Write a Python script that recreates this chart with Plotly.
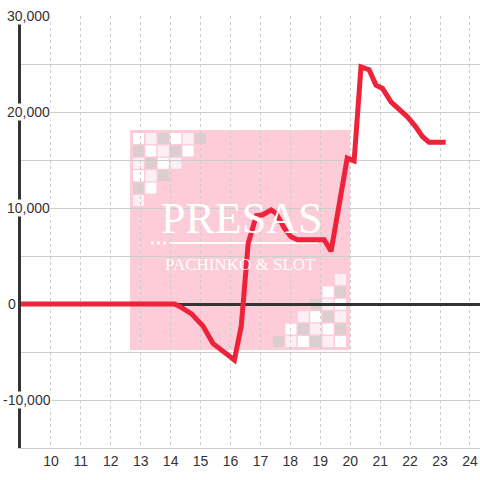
import plotly.graph_objects as go

# ---- data ----
hours = [9, 14.13, 14.3, 14.69, 15.08, 15.41, 16.13, 16.36, 16.59, 16.86, 17.08,
         17.36, 17.52, 17.8, 18.02, 18.24, 19.13, 19.36, 19.9, 20.13, 20.36,
         20.63, 20.86, 21.08, 21.36, 21.63, 21.91, 22.19, 22.41, 22.63, 23.19]
balance = [0, 0, -250, -1000, -2300, -4100, -5830, -2300, 6300, 9200, 9300,
           9800, 9450, 7900, 7000, 6700, 6700, 5500, 15200, 14900, 24700,
           24400, 22800, 22450, 21050, 20350, 19500, 18450, 17450, 16850, 16850]
x_ticks = list(range(10, 25))
y_label_vals = [30000, 20000, 10000, 0, -10000]
y_label_text = ["30,000", "20,000", "10,000", "0", "-10,000"]

W, H = 480, 480
ML, MR, MT, MB = 21, 0, 16, 32
PW, PH = W - ML - MR, H - MT - MB


def xp(px):
    return (px - ML) / PW


def yp(py):
    return (H - MB - py) / PH


fig = go.Figure()
fig.add_trace(go.Scatter(x=hours, y=balance, mode="lines",
                         line=dict(color="#ee2238", width=5),
                         hoverinfo="skip", showlegend=False))

shapes = []
# watermark background
shapes.append(dict(type="rect", xref="paper", yref="paper", layer="below",
                   x0=xp(130), x1=xp(350), y0=yp(350), y1=yp(130),
                   fillcolor="#fecbd9", line=dict(width=0)))
COL = {"W": "#ffffff", "L": "#fdeff6", "G": "#dccdd0"}
pitch, sz = 12.4, 11
tl = ["WLGWLG", "GWLGW", "LGWL", "WLG", "GW", "L"]
for r, row in enumerate(tl):
    for c, ch in enumerate(row):
        x0 = 133 + c * pitch
        y0 = 133 + r * pitch
        shapes.append(dict(type="rect", xref="paper", yref="paper", layer="below",
                           x0=xp(x0), x1=xp(x0 + sz), y0=yp(y0 + sz), y1=yp(y0),
                           fillcolor=COL[ch], line=dict(width=0)))
br = ["GLWGLW", "WGLWG", "LWGL", "GLW", "WG", "L"]
for r, row in enumerate(br):
    start = 6 - len(row)
    for k, ch in enumerate(row):
        c = start + k
        x0 = 273 + c * pitch
        y0 = 336 - r * pitch
        shapes.append(dict(type="rect", xref="paper", yref="paper", layer="below",
                           x0=xp(x0), x1=xp(x0 + sz), y0=yp(y0 + sz), y1=yp(y0),
                           fillcolor=COL[ch], line=dict(width=0)))
# watermark underline
shapes.append(dict(type="line", xref="paper", yref="paper", layer="below",
                   x0=xp(170), x1=xp(318), y0=yp(243), y1=yp(243),
                   line=dict(color="white", width=2)))
shapes.append(dict(type="line", xref="paper", yref="paper", layer="below",
                   x0=xp(151), x1=xp(167), y0=yp(243), y1=yp(243),
                   line=dict(color="white", width=3, dash="dot")))

annotations = [
    dict(text="PRESAS", xref="paper", yref="paper", x=xp(241), y=yp(218),
         showarrow=False, font=dict(family="Liberation Serif", size=44, color="white")),
    dict(text="PACHINKO &amp; SLOT", xref="paper", yref="paper", x=xp(240), y=yp(264),
         showarrow=False, font=dict(family="Liberation Serif", size=17, color="white")),
]
centers = [28.5, 28.5, 28.5, 11.5, 27]
for v, t, cx in zip(y_label_vals, y_label_text, centers):
    annotations.append(dict(text=t, xref="paper", yref="y", x=xp(cx), y=v,
                            xanchor="center", yanchor="middle", showarrow=False,
                            bgcolor="white", borderpad=0,
                            font=dict(family="Liberation Sans, Arial", size=14, color="#333")))

fig.update_layout(
    width=W, height=H,
    margin=dict(l=ML, r=MR, t=MT, b=MB),
    paper_bgcolor="white", plot_bgcolor="white",
    shapes=shapes, annotations=annotations,
    xaxis=dict(range=[9, 9 + PW / 29.93], tickvals=x_ticks,
               showgrid=True, gridcolor="#cccccc", griddash="3px,3px", gridwidth=1,
               showline=True, linecolor="#cccccc", linewidth=1,
               zeroline=False, ticks="",
               tickfont=dict(family="Liberation Sans, Arial", size=14, color="#333")),
    yaxis=dict(range=[-15000, 30000], dtick=5000, tick0=0,
               showgrid=True, gridcolor="#cccccc", gridwidth=1,
               showticklabels=False, ticks="",
               showline=True, linecolor="#333333", linewidth=3,
               zeroline=True, zerolinecolor="#333333", zerolinewidth=3),
)

fig.write_html("out.html", config={"displayModeBar": False},
               post_script="document.body.style.margin='0';")
